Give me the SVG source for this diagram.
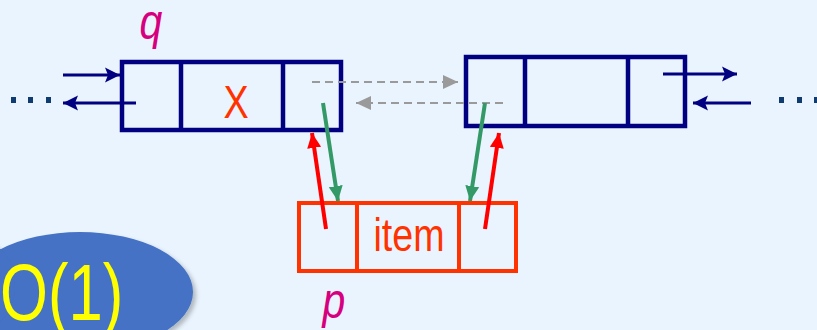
<svg xmlns="http://www.w3.org/2000/svg" width="817" height="330" viewBox="0 0 817 330">
  <defs>
    <style>
      .navy { fill: none; stroke: #000080; stroke-width: 4.5; }
      .item { fill: none; stroke: #FF3300; stroke-width: 4; }
      .nav-line { stroke: #000080; stroke-width: 3; fill: none; }
      .gray-line { stroke: #9A9A9A; stroke-width: 2; stroke-dasharray: 8 5; fill: none; }
      .green-line { stroke: #339966; stroke-width: 4; fill: none; }
      .red-line { stroke: #FF0000; stroke-width: 4; fill: none; }
      .lbl { font-family: "Liberation Sans", Arial, sans-serif; }
      .dots { fill: #0F3B70; }
    </style>
    <marker id="mNavy" markerUnits="userSpaceOnUse" markerWidth="16" markerHeight="16" viewBox="0 0 16 16" refX="15" refY="8" orient="auto">
      <path d="M0,0.5 L15,8 L0,15.5 L3,8 Z" fill="#000080"/>
    </marker>
    <marker id="mGray" markerUnits="userSpaceOnUse" markerWidth="16" markerHeight="16" viewBox="0 0 16 16" refX="15" refY="8" orient="auto">
      <path d="M0,1 L15,8 L0,15 Z" fill="#9A9A9A"/>
    </marker>
    <marker id="mGreen" markerUnits="userSpaceOnUse" markerWidth="16" markerHeight="16" viewBox="0 0 16 16" refX="15" refY="8" orient="auto">
      <path d="M0,1 L15,8 L0,15 Z" fill="#339966"/>
    </marker>
    <marker id="mRed" markerUnits="userSpaceOnUse" markerWidth="16" markerHeight="16" viewBox="0 0 16 16" refX="15" refY="8" orient="auto">
      <path d="M0,1 L15,8 L0,15 Z" fill="#FF0000"/>
    </marker>
    <filter id="shadow" x="-20%" y="-20%" width="140%" height="140%">
      <feDropShadow dx="3" dy="3" stdDeviation="2" flood-color="#000000" flood-opacity="0.25"/>
    </filter>
  </defs>

  <rect x="0" y="0" width="817" height="330" fill="#EAF4FE"/>

  <g id="callout">
    <g filter="url(#shadow)">
      <ellipse cx="80" cy="292" rx="113" ry="60" fill="#4472C4"/>
      <ellipse cx="-15" cy="285" rx="30" ry="42" fill="#4472C4"/>
    </g>
    <text class="lbl" transform="translate(0,320) scale(0.77,1)" font-size="80" fill="#FFFF00">O(1)</text>
  </g>

  <g id="node-q">
    <rect class="navy" x="122" y="62" width="219" height="68"/>
    <line class="navy" x1="181" y1="62" x2="181" y2="130"/>
    <line class="navy" x1="283" y1="62" x2="283" y2="130"/>
    <text class="lbl" transform="translate(236,118) scale(0.82,1)" font-size="46" fill="#FF3300" text-anchor="middle">X</text>
  </g>

  <g id="label-q">
    <text class="lbl" transform="translate(151,39) scale(0.82,1)" font-size="50" font-style="italic" fill="#D6007F" text-anchor="middle">q</text>
  </g>

  <g id="node-next">
    <rect class="navy" x="466" y="57" width="219" height="69"/>
    <line class="navy" x1="525" y1="57" x2="525" y2="126"/>
    <line class="navy" x1="628" y1="57" x2="628" y2="126"/>
  </g>

  <g id="node-p">
    <rect class="item" x="299" y="203" width="217" height="68"/>
    <line class="item" x1="357" y1="203" x2="357" y2="271"/>
    <line class="item" x1="459" y1="203" x2="459" y2="271"/>
    <text class="lbl" transform="translate(409,251) scale(0.8,1)" font-size="47" fill="#FF3300" text-anchor="middle">item</text>
  </g>

  <g id="label-p">
    <text class="lbl" transform="translate(334,318) scale(0.82,1)" font-size="50" font-style="italic" fill="#D6007F" text-anchor="middle">p</text>
  </g>

  <g id="dots-left">
    <rect class="dots" x="11" y="97" width="5" height="6"/>
    <rect class="dots" x="28" y="97" width="5" height="6"/>
    <rect class="dots" x="46" y="97" width="5" height="6"/>
  </g>
  <g id="dots-right">
    <rect class="dots" x="779" y="97" width="5" height="6"/>
    <rect class="dots" x="797" y="97" width="5" height="6"/>
    <rect class="dots" x="814" y="97" width="5" height="6"/>
  </g>

  <g id="connectors">
    <line class="nav-line" x1="63" y1="75" x2="120" y2="75" marker-end="url(#mNavy)"/>
    <line class="nav-line" x1="136" y1="103" x2="63" y2="103" marker-end="url(#mNavy)"/>
    <line class="nav-line" x1="663" y1="74" x2="737" y2="74" marker-end="url(#mNavy)"/>
    <line class="nav-line" x1="751" y1="103" x2="693" y2="103" marker-end="url(#mNavy)"/>

    <line class="gray-line" x1="312" y1="82" x2="458" y2="82" marker-end="url(#mGray)"/>
    <line class="gray-line" x1="503" y1="103" x2="356" y2="103" marker-end="url(#mGray)"/>

    <line class="green-line" x1="323" y1="103" x2="338" y2="201" marker-end="url(#mGreen)"/>
    <line class="green-line" x1="485" y1="103" x2="470" y2="201" marker-end="url(#mGreen)"/>

    <line class="red-line" x1="326" y1="229" x2="312" y2="133" marker-end="url(#mRed)"/>
    <line class="red-line" x1="485" y1="229" x2="499" y2="133" marker-end="url(#mRed)"/>
  </g>
</svg>
